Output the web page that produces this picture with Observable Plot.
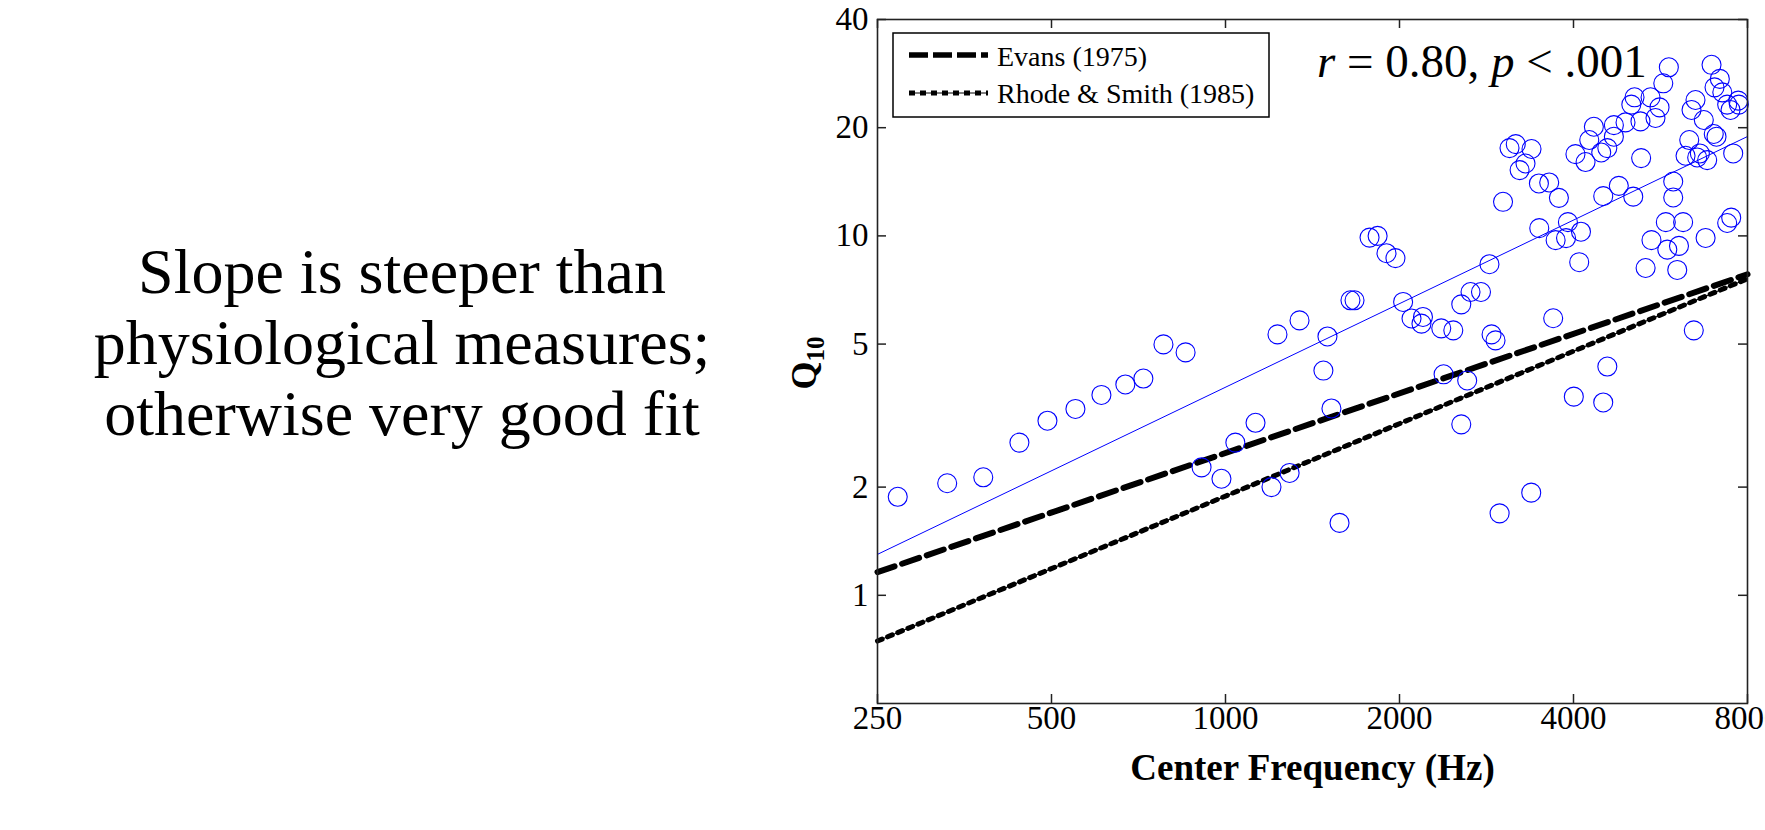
<!DOCTYPE html>
<html>
<head>
<meta charset="utf-8">
<script src="https://cdn.jsdelivr.net/npm/d3@7"></script>
<script src="https://cdn.jsdelivr.net/npm/@observablehq/plot@0.6"></script>
<style>
  html, body { margin: 0; padding: 0; background: #fff; }
  #chart { width: 1765px; height: 830px; overflow: hidden; }
</style>
</head>
<body>
<div id="chart"></div>
<script>
// ---- Data ----
const freqHz = [271,330,381,440,492,550,610,671,721,781,853,909,984,1040,1127,1230,1343,1201,1291,1501,
  1477,1525,1575,1645,1672,1775,1833,1899,1968,2029,2098,2196,2183,2362,2478,2558,2654,2767,2384,2619,
  2862,2886,2932,2558,2980,3021,3100,3178,3384,3227,3304,3485,3631,3774,3490,3725,3912,3883,4121,4092,
  3689,4005,4503,4577,3380,6459,4031,4197,4259,4338,4467,4577,4698,4698,4921,5223,5545,5635,5437,5101,
  5036,5720,5848,5237,4791,4503,5075,5951,5951,5778,6190,5457,5812,6089,5331,6047,6770,7497,7378,6250,
  6343,6617,6547,6813,6994,7071,7557,6932,7165,7015,7236,7710,6503,6401,6722,7378,7477,7729];
const q10 = [1.88,2.05,2.13,2.66,3.06,3.30,3.61,3.86,4.01,4.99,4.74,2.27,2.11,2.66,3.02,5.32,5.82,2.00,2.19,5.25,
  4.22,3.31,1.59,6.62,6.62,9.89,10.0,8.95,8.67,6.55,5.89,5.95,5.70,5.53,5.46,6.45,6.98,6.98,4.12,3.96,
  8.34,5.32,5.12,2.99,1.69,12.44,17.55,18.0,17.45,15.24,15.9,13.99,14.08,12.76,10.51,9.73,10.92,9.86,10.27,8.45,
  5.90,3.57,3.44,4.33,1.93,5.46,16.88,16.05,18.48,20.12,17.06,17.55,18.88,20.33,20.69,20.82,21.29,22.78,24.3,24.3,
  23.19,26.58,29.45,16.46,13.78,12.9,12.86,14.17,12.79,10.92,10.92,9.73,9.16,9.38,8.14,8.04,9.87,11.24,10.86,16.71,
  18.48,16.96,16.53,16.25,19.21,18.88,16.96,29.92,27.34,25.9,25.08,23.78,23.88,22.41,21.01,23.19,22.41,23.19];

const lineFreq = [250, 8000];
const fitQ = [1.30, 18.9];        // regression line (blue)
const evansQ = [1.16, 7.82];      // Evans (1975)
const rhodeQ = [0.746, 7.6];      // Rhode & Smith (1985)

const xTicks = [250, 500, 1000, 2000, 4000, 8000];
const yTicks = [1, 2, 5, 10, 20, 40];
const legendLabels = ["Evans (1975)", "Rhode & Smith (1985)"];
const xLabel = "Center Frequency (Hz)";
const statText = ["r", " = 0.80, ", "p", " < .001"];
const noteLines = ["Slope is steeper than", "physiological measures;", "otherwise very good fit"];

// ---- Build tables ----
const points = freqHz.map((f, i) => ({f, q: q10[i]}));
const toLine = (qs) => lineFreq.map((f, i) => ({f, q: qs[i]}));

const serif = "'Liberation Serif', 'Times New Roman', Times, serif";
const frameH = 830 - 19 - 127, frameW = 1765 - 877 - 18, tk = 9;

const chart = Plot.plot({
  width: 1765, height: 830,
  marginLeft: 877, marginRight: 18, marginTop: 19, marginBottom: 127,
  style: {fontFamily: serif, fontSize: "33px", background: "#fff", color: "#000"},
  x: {type: "log", domain: [250, 8000], axis: null},
  y: {type: "log", domain: [0.5, 40], axis: null},
  marks: [
    Plot.line(toLine(fitQ), {x: "f", y: "q", stroke: "#0000ff", strokeWidth: 1}),
    Plot.line(toLine(evansQ), {x: "f", y: "q", stroke: "#000", strokeWidth: 6, strokeDasharray: "18 8"}),
    Plot.line(toLine(rhodeQ), {x: "f", y: "q", stroke: "#000", strokeWidth: 1.2}),
    Plot.line(toLine(rhodeQ), {x: "f", y: "q", stroke: "#000", strokeWidth: 5, strokeDasharray: "5 6"}),
    Plot.dot(points, {x: "f", y: "q", r: 9.5, stroke: "#0000ff", fill: "none", strokeWidth: 1.1}),
    Plot.frame({stroke: "#222", strokeWidth: 1.6}),
    Plot.tickX(xTicks, {x: d => d, insetTop: frameH - tk, stroke: "#222", strokeWidth: 1.5}),
    Plot.tickX(xTicks, {x: d => d, insetBottom: frameH - tk, stroke: "#222", strokeWidth: 1.5}),
    Plot.tickY(yTicks, {y: d => d, insetRight: frameW - tk, stroke: "#222", strokeWidth: 1.5}),
    Plot.tickY(yTicks, {y: d => d, insetLeft: frameW - tk, stroke: "#222", strokeWidth: 1.5}),
    Plot.text(xTicks, {x: d => d, frameAnchor: "bottom", dy: 25, text: d => String(d), fontSize: 33, fill: "#000"}),
    Plot.text(yTicks, {y: d => d, frameAnchor: "left", dx: -9, textAnchor: "end", text: d => String(d), fontSize: 33, fill: "#000"}),
    Plot.text([xLabel], {frameAnchor: "bottom", text: d => d, dy: 76, fontSize: 37, fontWeight: "bold", fill: "#000"})
  ]
});
document.getElementById("chart").appendChild(chart);

// ---- Annotations: Q10 label, legend, statistic, side note ----
const svg = d3.select(chart);
const yl = svg.append("text")
  .attr("transform", "translate(816,363) rotate(-90)")
  .attr("text-anchor", "middle")
  .attr("font-family", serif).attr("font-weight", "bold").attr("font-size", 36).attr("fill", "#000");
yl.append("tspan").text("Q");
yl.append("tspan").attr("font-size", 25).attr("dy", 8).text("10");

const lg = svg.append("g");
lg.append("rect").attr("x", 893).attr("y", 33).attr("width", 376).attr("height", 84)
  .attr("fill", "#fff").attr("stroke", "#000").attr("stroke-width", 1.5);
lg.append("line").attr("x1", 909).attr("x2", 988).attr("y1", 55).attr("y2", 55)
  .attr("stroke", "#000").attr("stroke-width", 5.5).attr("stroke-dasharray", "19 5");
lg.append("line").attr("x1", 909).attr("x2", 988).attr("y1", 93).attr("y2", 93)
  .attr("stroke", "#000").attr("stroke-width", 1);
lg.append("line").attr("x1", 909).attr("x2", 988).attr("y1", 93).attr("y2", 93)
  .attr("stroke", "#000").attr("stroke-width", 5).attr("stroke-dasharray", "6 5");
legendLabels.forEach((t, i) => {
  lg.append("text").attr("x", 997).attr("y", 66 + i * 37).attr("text-anchor", "start")
    .attr("font-family", serif).attr("font-size", 28).attr("fill", "#000").text(t);
});

const st = svg.append("text").attr("x", 1317).attr("y", 77).attr("text-anchor", "start")
  .attr("font-family", serif).attr("font-size", 47).attr("fill", "#000");
statText.forEach((t, i) => {
  st.append("tspan").attr("font-style", i % 2 === 0 ? "italic" : "normal").text(t);
});

noteLines.forEach((t, i) => {
  svg.append("text").attr("x", 402).attr("y", 293 + i * 71)
    .attr("text-anchor", "middle").attr("font-family", serif)
    .attr("font-size", 64).attr("fill", "#000").text(t);
});
</script>
</body>
</html>
